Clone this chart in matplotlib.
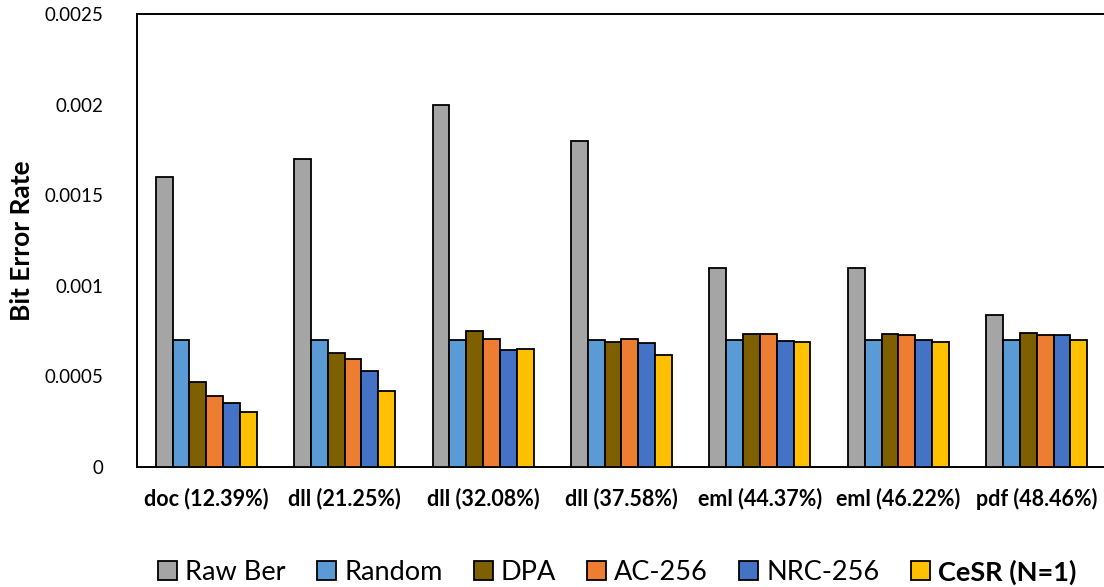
import numpy as np
import matplotlib
matplotlib.use("Agg")
import matplotlib.pyplot as plt

plt.rcParams['font.family'] = ['Lato', 'DejaVu Sans']

categories = ['doc (12.39%)', 'dll (21.25%)', 'dll (32.08%)', 'dll (37.58%)',
              'eml (44.37%)', 'eml (46.22%)', 'pdf (48.46%)']
series_names = ['Raw Ber', 'Random', 'DPA', 'AC-256', 'NRC-256', 'CeSR (N=1)']

raw_ber = [0.0016, 0.0017, 0.0020, 0.0018, 0.0011, 0.0011, 0.00084]
random_ber = [0.0007, 0.0007, 0.0007, 0.0007, 0.0007, 0.0007, 0.0007]
dpa = [0.000468, 0.000630, 0.000752, 0.000690, 0.000736, 0.000733, 0.000738]
ac_256 = [0.000390, 0.000598, 0.000707, 0.000707, 0.000732, 0.000730, 0.000729]
nrc_256 = [0.000356, 0.000532, 0.000646, 0.000687, 0.000698, 0.000703, 0.000729]
cesr = [0.000306, 0.000422, 0.000650, 0.000620, 0.000689, 0.000692, 0.000700]

colors = ['#A5A5A5', '#5B9BD5', '#7F6000', '#ED7D31', '#4472C4', '#FFC000']
series = [raw_ber, random_ber, dpa, ac_256, nrc_256, cesr]

fig = plt.figure(figsize=(11.04, 5.87), dpi=100)
ax = fig.add_axes([0.1241, 0.2044, 0.8777, 0.7717])

x = np.arange(len(categories))
width = 0.1215
for i, (vals, name, c) in enumerate(zip(series, series_names, colors)):
    offset = (i - 2.5) * width
    ax.bar(x + offset, vals, width, color=c, edgecolor='black',
           linewidth=1.3, label=name, zorder=3)

ax.set_xlim(-0.5, len(categories) - 0.5)
ax.set_ylim(0, 0.0025)
ax.set_yticks([0, 0.0005, 0.001, 0.0015, 0.002, 0.0025])
ax.set_yticklabels(['0', '0.0005', '0.001', '0.0015', '0.002', '0.0025'], fontsize=13.5)
ax.set_xticks(x)
ax.set_xticklabels(categories, fontsize=15.5, fontweight='bold')
ax.tick_params(axis='both', length=0)
ax.tick_params(axis='y', pad=24)
ax.tick_params(axis='x', pad=15)
ax.set_ylabel('Bit Error Rate', fontsize=19, fontweight='bold', labelpad=8)

for side in ['left', 'top', 'bottom']:
    ax.spines[side].set_linewidth(1.4)
ax.spines['right'].set_visible(False)

leg = fig.legend(loc='center', bbox_to_anchor=(0.559, 0.025), ncol=6,
                 frameon=False, fontsize=19.5, handlelength=0.7, handleheight=0.7,
                 handletextpad=0.3, columnspacing=1.15)
for t in leg.get_texts():
    if t.get_text().startswith('CeSR'):
        t.set_fontweight('bold')

fig.savefig('out.png', dpi=100)
